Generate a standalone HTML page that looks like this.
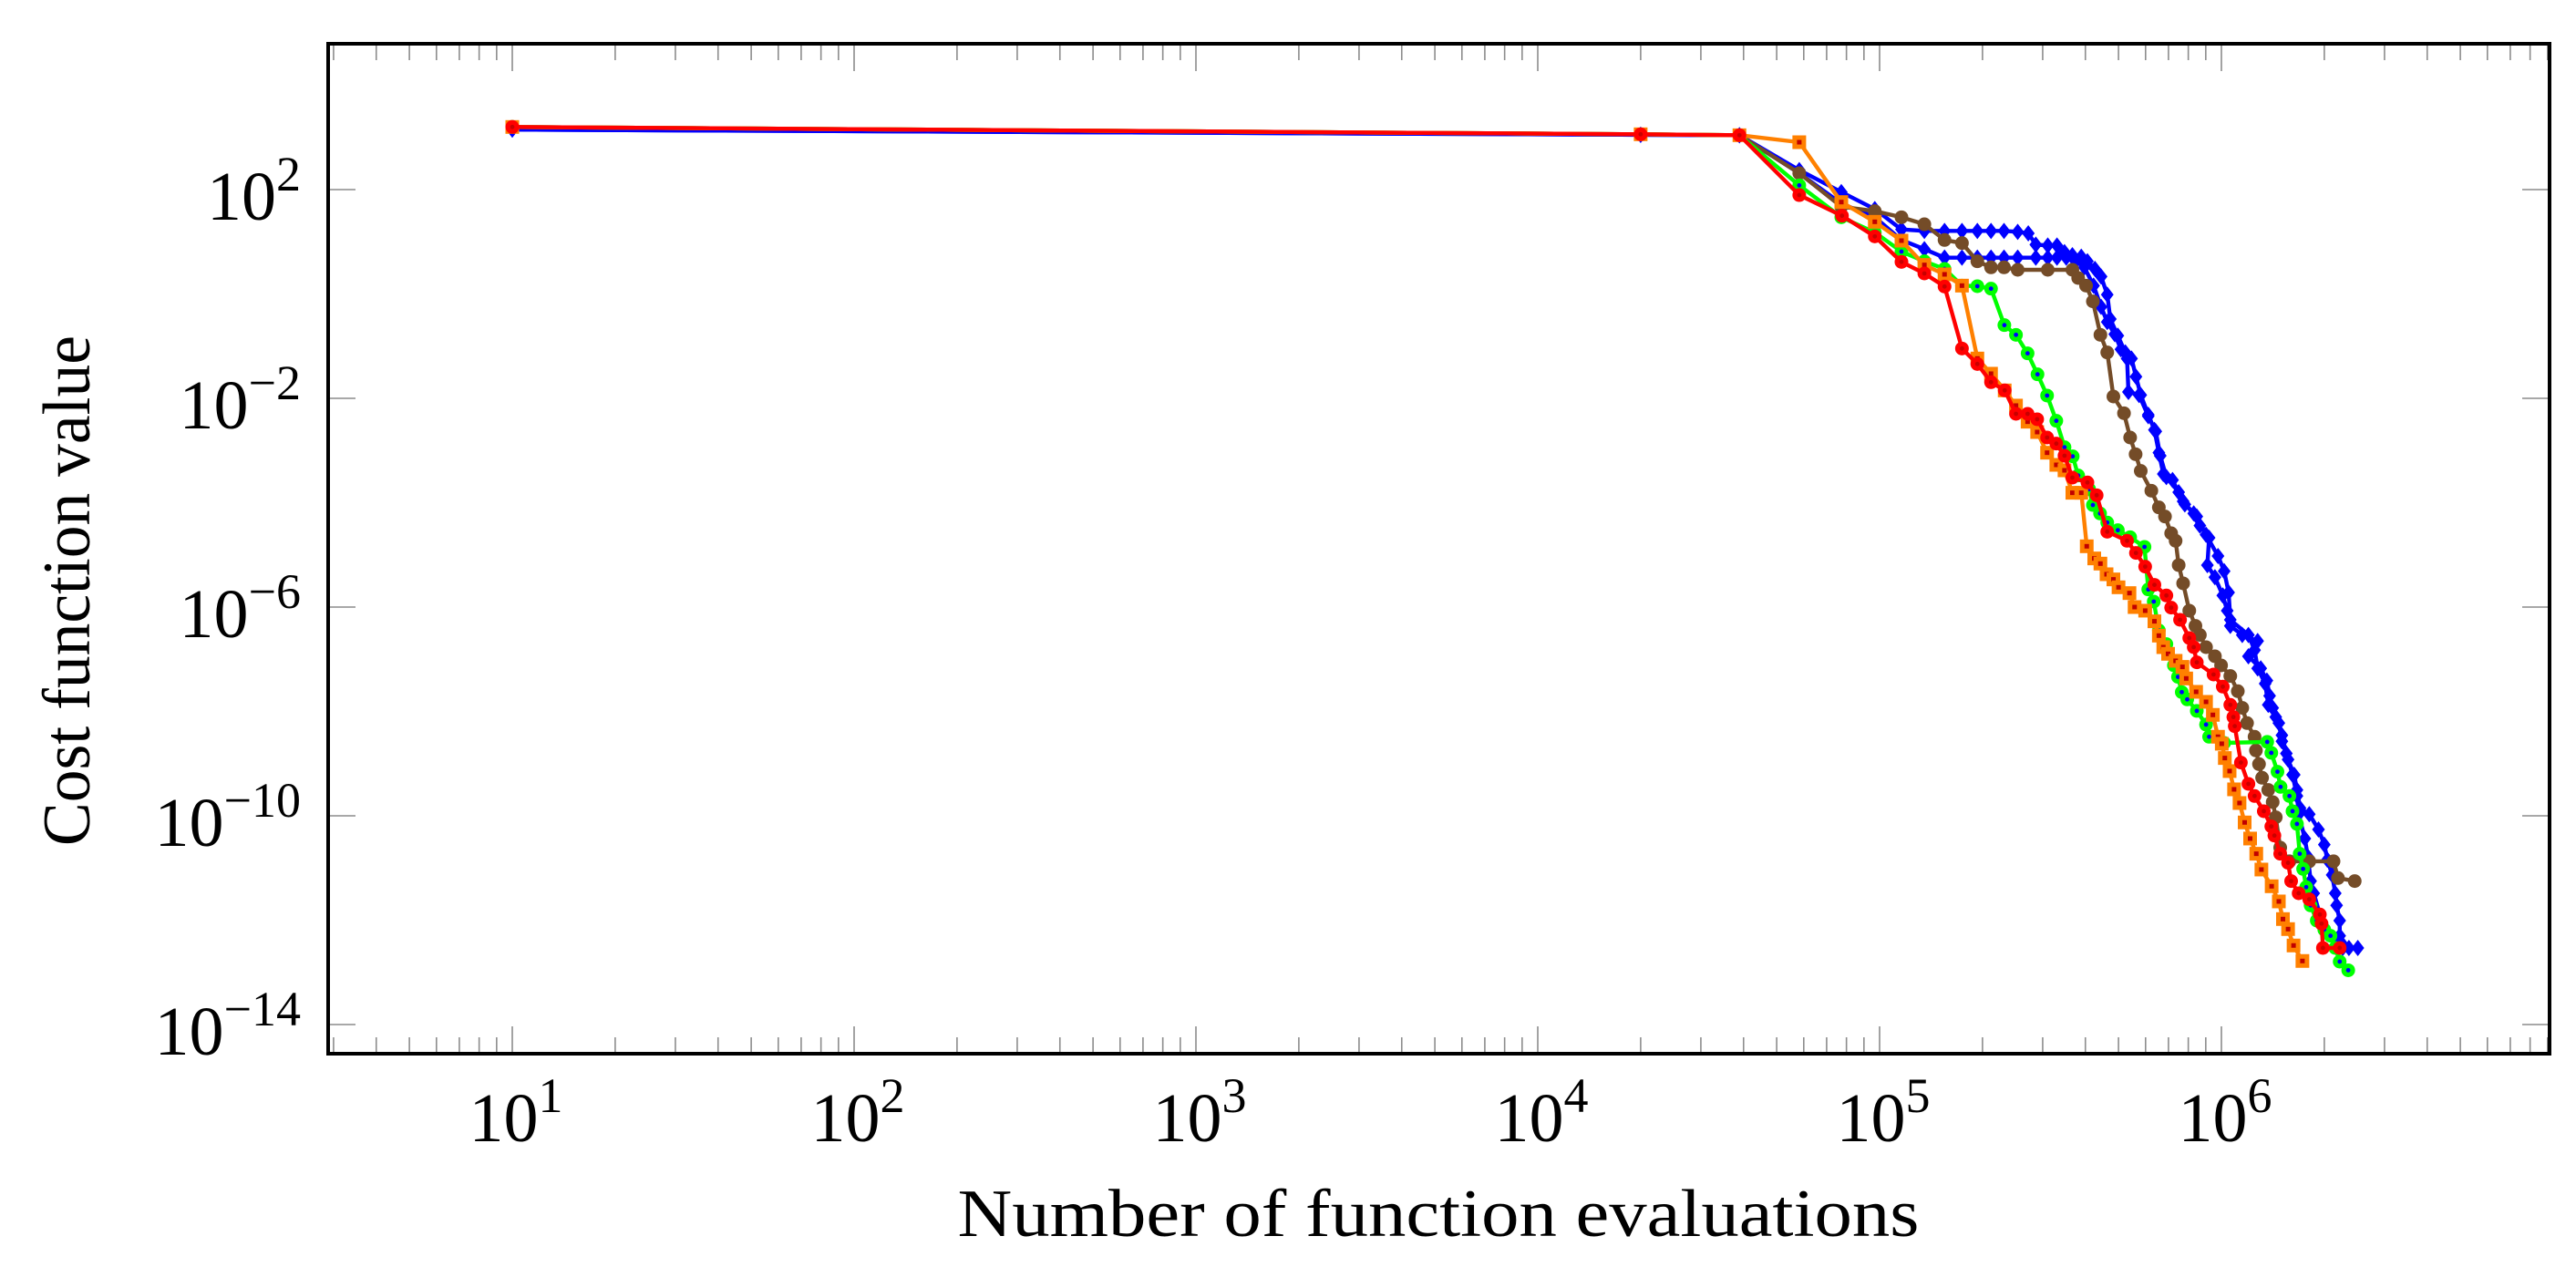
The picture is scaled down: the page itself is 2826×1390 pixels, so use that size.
<!DOCTYPE html>
<html><head><meta charset="utf-8"><style>
html,body{margin:0;padding:0;background:#fff;}
svg{display:block;font-family:"Liberation Serif",serif;}
</style></head><body>
<svg id="chart" width="2826" height="1390" viewBox="0 0 2826 1390" xmlns="http://www.w3.org/2000/svg">
<rect x="0" y="0" width="2826" height="1390" fill="#fff"/>
<g id="ticks"></g>
<g id="series"></g>
<rect x="360" y="48" width="2437" height="1108" fill="none" stroke="#000" stroke-width="4"/>
<g id="labels"></g>
<text x="1578" y="1356" font-size="74" text-anchor="middle" textLength="1055" lengthAdjust="spacingAndGlyphs">Number of function evaluations</text>
<text x="0" y="0" font-size="74" text-anchor="middle" transform="translate(98,648) rotate(-90)" textLength="560" lengthAdjust="spacingAndGlyphs">Cost function value</text>
</svg>
<script>
// Decade exponents (log10)
const xTickExps = [1, 2, 3, 4, 5, 6];
const yTickExps = [2, -2, -6, -10, -14];

const redLogX = [1, 4.301, 4.590, 4.765, 4.890, 4.986, 5.064, 5.131, 5.190, 5.241, 5.286, 5.326, 5.366, 5.399, 5.433, 5.461, 5.490, 5.517, 5.541, 5.564, 5.608, 5.635, 5.666, 5.724, 5.750, 5.777, 5.804, 5.839, 5.853, 5.879, 5.906, 5.919, 5.928, 5.977, 6.004, 6.026, 6.035, 6.039, 6.057, 6.079, 6.097, 6.124, 6.146, 6.155, 6.172, 6.195, 6.204, 6.226, 6.257, 6.288, 6.293, 6.297, 6.346];
const redLogY = [3.20, 3.06, 3.042, 1.895, 1.499, 1.103, 0.614, 0.393, 0.143, -1.045, -1.342, -1.691, -1.848, -2.297, -2.297, -2.401, -2.751, -2.867, -3.100, -3.519, -3.612, -3.857, -4.556, -4.730, -4.963, -5.225, -5.574, -5.778, -6.011, -6.244, -6.593, -6.768, -7.059, -7.292, -7.525, -7.874, -8.107, -8.282, -8.980, -9.388, -9.621, -9.912, -10.203, -10.378, -10.727, -10.901, -11.251, -11.484, -11.600, -11.891, -12.066, -12.532, -12.532];

const orangeLogX = [1, 4.301, 4.590, 4.765, 4.888, 4.986, 5.064, 5.131, 5.190, 5.241, 5.286, 5.326, 5.366, 5.399, 5.433, 5.461, 5.490, 5.517, 5.541, 5.564, 5.590, 5.606, 5.628, 5.646, 5.664, 5.684, 5.699, 5.731, 5.746, 5.777, 5.804, 5.817, 5.830, 5.844, 5.866, 5.886, 5.897, 5.926, 5.955, 5.975, 5.990, 6.001, 6.010, 6.024, 6.037, 6.053, 6.068, 6.084, 6.102, 6.117, 6.147, 6.168, 6.180, 6.195, 6.211, 6.237];
const orangeLogY = [3.20, 3.06, 3.042, 2.908, 1.761, 1.383, 1.022, 0.556, 0.376, 0.160, -1.237, -1.528, -1.848, -2.139, -2.448, -2.646, -3.042, -3.275, -3.380, -3.810, -3.810, -4.835, -5.068, -5.167, -5.371, -5.470, -5.621, -5.732, -6.000, -6.069, -6.273, -6.547, -6.768, -6.896, -7.030, -7.146, -7.368, -7.624, -7.816, -8.066, -8.485, -8.619, -8.893, -9.143, -9.493, -9.755, -10.127, -10.436, -10.727, -11.030, -11.350, -11.641, -11.979, -12.171, -12.485, -12.782];

const greenLogX = [1, 4.301, 4.590, 4.765, 4.888, 4.986, 5.064, 5.131, 5.190, 5.241, 5.286, 5.326, 5.365, 5.399, 5.433, 5.462, 5.490, 5.517, 5.541, 5.565, 5.581, 5.613, 5.624, 5.645, 5.666, 5.697, 5.733, 5.775, 5.786, 5.802, 5.817, 5.839, 5.861, 5.873, 5.884, 5.900, 5.928, 5.955, 5.964, 6.008, 6.134, 6.146, 6.164, 6.173, 6.199, 6.208, 6.221, 6.229, 6.239, 6.248, 6.261, 6.279, 6.301, 6.319, 6.333, 6.346, 6.371];
const greenLogY = [3.20, 3.06, 3.042, 2.081, 1.470, 1.179, 0.812, 0.626, 0.480, 0.160, 0.149, 0.102, -0.597, -0.783, -1.138, -1.540, -1.947, -2.431, -2.937, -3.112, -3.479, -3.741, -4.044, -4.206, -4.381, -4.527, -4.661, -4.847, -5.662, -5.895, -6.448, -6.710, -7.117, -7.338, -7.630, -7.769, -7.990, -8.252, -8.485, -8.602, -8.584, -8.794, -9.155, -9.446, -9.621, -9.912, -10.156, -10.727, -11.018, -11.367, -11.717, -12.008, -12.182, -12.299, -12.532, -12.794, -12.960];

const brownLogX = [1, 4.301, 4.590, 4.765, 4.888, 4.986, 5.064, 5.131, 5.190, 5.241, 5.286, 5.326, 5.364, 5.404, 5.492, 5.564, 5.581, 5.604, 5.624, 5.646, 5.666, 5.684, 5.715, 5.733, 5.749, 5.764, 5.795, 5.817, 5.835, 5.853, 5.866, 5.875, 5.888, 5.906, 5.924, 5.937, 5.955, 5.981, 5.999, 6.026, 6.048, 6.061, 6.075, 6.097, 6.101, 6.110, 6.119, 6.137, 6.150, 6.159, 6.172, 6.199, 6.257, 6.328, 6.341, 6.390];
const brownLogY = [3.20, 3.06, 3.042, 2.314, 1.674, 1.587, 1.470, 1.336, 1.034, 0.975, 0.626, 0.510, 0.510, 0.463, 0.463, 0.463, 0.306, 0.160, -0.142, -0.783, -1.121, -1.965, -2.285, -2.751, -3.071, -3.391, -3.770, -4.090, -4.265, -4.585, -4.730, -5.196, -5.545, -6.069, -6.360, -6.535, -6.768, -6.943, -7.117, -7.321, -7.612, -7.932, -8.223, -8.485, -8.747, -9.009, -9.271, -9.504, -9.737, -10.028, -10.610, -10.872, -10.872, -10.872, -11.193, -11.251];

const blueALogX = [1, 4.301, 4.590, 4.765, 4.888, 4.986, 5.064, 5.131, 5.190, 5.241, 5.286, 5.326, 5.364, 5.404, 5.435, 5.457, 5.492, 5.519, 5.541, 5.564, 5.590, 5.608, 5.630, 5.648, 5.666, 5.675, 5.697, 5.719, 5.737, 5.750, 5.764, 5.786, 5.804, 5.817, 5.830, 5.857, 5.888, 5.919, 5.937, 5.964, 5.959, 5.981, 6.004, 6.017, 6.026, 6.061, 6.106, 6.079, 6.115, 6.133, 6.141, 6.150, 6.168, 6.177, 6.195, 6.213, 6.221, 6.230, 6.257, 6.284, 6.301, 6.310, 6.324, 6.333, 6.337, 6.346, 6.346, 6.373];
const blueALogY = [3.15, 3.05, 3.042, 2.373, 1.953, 1.627, 1.237, 1.208, 1.208, 1.208, 1.208, 1.208, 1.208, 1.191, 1.162, 0.946, 0.929, 0.929, 0.801, 0.743, 0.713, 0.626, 0.480, 0.335, -0.014, -0.480, -0.800, -1.121, -1.237, -1.586, -1.936, -2.314, -2.605, -3.042, -3.449, -3.566, -3.973, -4.206, -4.439, -4.672, -5.196, -5.429, -5.778, -6.069, -6.360, -6.535, -6.651, -6.943, -7.175, -7.408, -7.700, -7.932, -8.223, -8.573, -8.922, -9.213, -9.504, -9.854, -9.970, -10.261, -10.552, -10.843, -11.134, -11.484, -11.717, -12.008, -12.299, -12.532];

const blueBLogX = [1, 4.301, 4.590, 4.765, 4.888, 4.986, 5.064, 5.131, 5.190, 5.241, 5.286, 5.326, 5.364, 5.404, 5.457, 5.492, 5.519, 5.546, 5.573, 5.599, 5.626, 5.648, 5.666, 5.688, 5.706, 5.724, 5.728, 5.759, 5.786, 5.808, 5.821, 5.839, 5.875, 5.893, 5.928, 5.955, 5.990, 6.008, 6.021, 6.026, 6.079, 6.097, 6.106, 6.128, 6.137, 6.159, 6.177, 6.190, 6.208, 6.221, 6.226, 6.244, 6.253, 6.261, 6.270, 6.301, 6.355, 6.399];
const blueBLogY = [3.15, 3.05, 3.042, 2.314, 1.732, 1.470, 1.034, 0.859, 0.696, 0.696, 0.696, 0.696, 0.696, 0.696, 0.696, 0.696, 0.696, 0.696, 0.626, 0.510, 0.160, -0.247, -0.538, -0.771, -1.062, -1.237, -1.877, -1.936, -2.343, -2.634, -3.100, -3.508, -3.799, -4.032, -4.264, -4.614, -5.021, -5.312, -5.720, -6.244, -6.535, -6.826, -7.175, -7.467, -7.874, -8.107, -8.456, -8.806, -9.213, -9.621, -9.970, -10.436, -10.785, -11.251, -11.484, -12.182, -12.532, -12.532];

const NS = 'http://www.w3.org/2000/svg';
const X0 = 562, XPD = 375, Y0 = 208, YPD = 57.25;
function sx(e){ return X0 + (e - 1) * XPD; }
function sy(e){ return Y0 - (e - 2) * YPD; }
function mk(tag, attrs, parent){
  const el = document.createElementNS(NS, tag);
  for (const k in attrs) el.setAttribute(k, attrs[k]);
  parent.appendChild(el);
  return el;
}
const L = 360, R = 2797, T = 48, B = 1156;
const ticks = document.getElementById('ticks');
for (let d = 0; d <= 6; d++) {
  for (let m = 1; m <= 9; m++) {
    const x = sx(d + Math.log10(m));
    if (x < L + 2 || x > R - 2) continue;
    const len = m === 1 ? 30 : 18;
    const t1 = mk('line', {x1: x, x2: x, y1: B, y2: B - len, stroke: '#8c8c8c', 'stroke-width': 1.6}, ticks);
    
    
    const t2 = mk('line', {x1: x, x2: x, y1: T, y2: T + len, stroke: '#8c8c8c', 'stroke-width': 1.6}, ticks);
    
    
  }
}
yTickExps.forEach(e => {
  const y = sy(e);
  const a = mk('line', {x1: L, x2: L + 30, y1: y, y2: y, stroke: '#8c8c8c', 'stroke-width': 1.6}, ticks);
  
  
  const b = mk('line', {x1: R, x2: R - 30, y1: y, y2: y, stroke: '#8c8c8c', 'stroke-width': 1.6}, ticks);
  
  
});
const labels = document.getElementById('labels');
function expLabel(parent, x, y, exp, anchor){
  const t = mk('text', {x: x, y: y, 'font-size': 76, 'text-anchor': anchor}, parent);
  const base = document.createElementNS(NS, 'tspan'); base.textContent = '10'; t.appendChild(base);
  const sup = document.createElementNS(NS, 'tspan');
  sup.setAttribute('dy', -32); sup.setAttribute('font-size', 54);
  sup.textContent = exp < 0 ? '\u2212' + (-exp) : String(exp);
  t.appendChild(sup);
  return t;
}
xTickExps.forEach(e => {
  const t = expLabel(labels, sx(e) + 4, 1252, e, 'middle');
  
  
});
yTickExps.forEach(e => {
  const t = expLabel(labels, 330, sy(e) + 33, e, 'end');
  
  
});
const sg = document.getElementById('series');
function drawSeries(name, lx, ly, color, marker){
  const g = mk('g', {}, sg);
  
  
  const pts = lx.map((v, i) => sx(v).toFixed(1) + ',' + sy(ly[i]).toFixed(1)).join(' ');
  const pl = mk('polyline', {points: pts, fill: 'none', stroke: color, 'stroke-width': 4.4, 'stroke-linejoin': 'round'}, g);
  
  
  lx.forEach((v, i) => {
    const x = sx(v), y = sy(ly[i]);
    let m;
    if (marker === 'square') {
      m = mk('rect', {x: x - 7.5, y: y - 7.5, width: 15, height: 15, fill: color}, g);
      mk('rect', {x: x - 2.5, y: y - 2.5, width: 5, height: 5, fill: '#c00000'}, g);
    } else if (marker === 'ring') {
      m = mk('circle', {cx: x, cy: y, r: 7.5, fill: color}, g);
      mk('circle', {cx: x, cy: y, r: 2.4, fill: '#0000ff'}, g);
    } else if (marker === 'dot') {
      m = mk('circle', {cx: x, cy: y, r: 7.5, fill: color}, g);
      mk('circle', {cx: x, cy: y, r: 2.4, fill: '#c80000'}, g);
    } else if (marker === 'diamond') {
      m = mk('polygon', {points: `${x},${y-9} ${x+7},${y} ${x},${y+9} ${x-7},${y}`, fill: color}, g);
    } else {
      m = mk('circle', {cx: x, cy: y, r: 7.5, fill: color}, g);
    }
    
    
  });
}
drawSeries('series-blue-a', blueALogX, blueALogY, '#0000ff', 'diamond');
drawSeries('series-blue-b', blueBLogX, blueBLogY, '#0000ff', 'diamond');
drawSeries('series-brown', brownLogX, brownLogY, '#744c28', 'circle');
drawSeries('series-green', greenLogX, greenLogY, '#00ff00', 'ring');
drawSeries('series-orange', orangeLogX, orangeLogY, '#ff8000', 'square');
drawSeries('series-red', redLogX, redLogY, '#ff0000', 'dot');
</script>
</body></html>
